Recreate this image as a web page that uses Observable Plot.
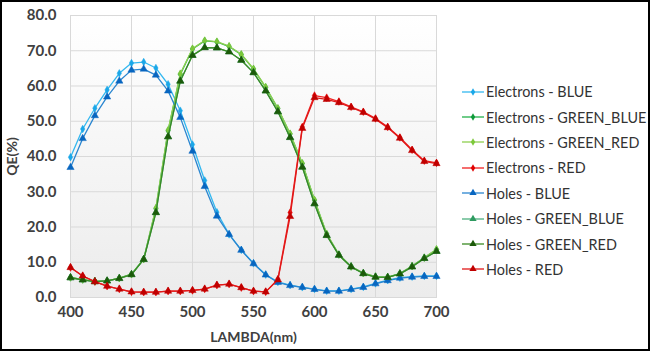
<!DOCTYPE html>
<html><head><meta charset="utf-8">
<script src="https://cdn.jsdelivr.net/npm/d3@7"></script>
<script src="https://cdn.jsdelivr.net/npm/@observablehq/plot@0.6"></script>
<style>
body{margin:0;background:#fff;}
#wrap{position:relative;width:650px;height:351px;overflow:hidden;background:#fff;font-family:Lato,"Open Sans",sans-serif;}
#wrap svg.plot{position:absolute;left:0;top:0;}
#border{position:absolute;left:0;top:0;width:650px;height:351px;box-sizing:border-box;border:2px solid #000;pointer-events:none;}
#legend{position:absolute;left:461px;top:79px;}
.row{height:25.4px;display:flex;align-items:center;font-size:14.4px;color:#333;white-space:nowrap;}
.row svg{margin-right:1px;display:block}
</style></head><body><div id="wrap"><div id="legend"></div><div id="border"></div></div>
<script>
const lambda = [400,410,420,430,440,450,460,470,480,490,500,510,520,530,540,550,560,570,580,590,600,610,620,630,640,650,660,670,680,690,700];
const xTicks = [400,450,500,550,600,650,700];
const yTicks = [0,10,20,30,40,50,60,70,80];

const electronsBlue = [39.8,47.8,53.7,58.9,63.6,66.5,66.8,65.1,60.5,53.0,43.4,33.2,24.2,17.9,13.5,9.7,6.5,4.4,3.5,2.9,2.4,1.9,1.9,2.4,3.0,4.0,4.9,5.6,5.9,6.1,6.1];
const electronsGreenBlue = [5.7,5.1,4.6,4.7,5.5,6.6,10.9,25.2,47.3,63.3,70.5,72.8,72.5,71.2,68.9,64.8,59.6,53.6,46.4,38.0,27.6,18.0,12.2,8.8,6.9,5.9,5.8,6.8,8.9,11.3,13.6];
const electronsGreenRed = [5.7,5.1,4.6,4.7,5.5,6.6,10.9,25.4,47.5,63.5,70.6,72.9,72.6,71.3,69.0,64.9,59.7,53.7,46.5,38.1,27.7,18.1,12.2,8.8,6.9,5.9,5.8,6.8,8.9,11.3,13.7];
const electronsRed = [8.5,6.1,4.5,3.2,2.4,1.6,1.5,1.5,1.8,1.8,2.0,2.4,3.5,3.8,2.8,1.8,1.6,5.2,24.1,48.4,57.3,56.7,55.6,54.1,52.7,50.8,48.4,45.4,41.9,38.8,38.2];
const holesBlue = [36.9,45.1,51.6,56.9,61.4,64.5,64.8,63.1,58.6,51.1,41.5,31.5,23.1,17.9,13.4,9.6,6.4,4.3,3.4,2.9,2.3,1.8,1.8,2.3,2.9,3.9,4.8,5.5,5.8,6.0,6.0];
const holesGreenBlue = [5.6,5.0,4.5,4.7,5.4,6.5,10.8,24.1,45.6,61.4,68.7,70.9,70.8,69.7,67.3,63.8,58.6,52.7,45.4,37.0,26.6,17.6,12.0,8.7,6.8,5.8,5.7,6.7,8.7,11.1,13.1];
const holesGreenRed = [5.6,5.0,4.5,4.7,5.4,6.5,10.8,24.1,45.6,61.4,68.7,70.9,70.8,69.7,67.3,63.8,58.6,52.7,45.4,37.0,26.6,17.6,12.0,8.7,6.8,5.8,5.7,6.7,8.7,11.1,13.1];
const holesRed = [8.5,6.1,4.5,3.2,2.4,1.6,1.5,1.5,1.8,1.8,2.0,2.4,3.5,3.8,2.8,1.8,1.6,5.0,23.0,48.0,56.7,56.2,55.3,53.9,52.5,50.6,48.2,45.2,41.7,38.6,38.0];

const seriesNames = ["Electrons - BLUE","Electrons - GREEN_BLUE","Electrons - GREEN_RED","Electrons - RED","Holes - BLUE","Holes - GREEN_BLUE","Holes - GREEN_RED","Holes - RED"];
const seriesValues = [electronsBlue,electronsGreenBlue,electronsGreenRed,electronsRed,holesBlue,holesGreenBlue,holesGreenRed,holesRed];

const styles = [
  {line:"#33b8f0", mark:"#1aa7e8", symbol:"diamond", r:2.3},
  {line:"#22b04a", mark:"#0f9a3a", symbol:"diamond", r:2.3},
  {line:"#8fd050", mark:"#7cc83a", symbol:"diamond", r:2.3},
  {line:"#f02020", mark:"#e00000", symbol:"diamond", r:2.3},
  {line:"#2a86d0", mark:"#0866c0", symbol:"triangle", r:2.7},
  {line:"#4caf7e", mark:"#2e9a60", symbol:"triangle", r:2.7},
  {line:"#3a8a22", mark:"#1c5a0a", symbol:"triangle", r:2.7},
  {line:"#e01818", mark:"#c00000", symbol:"triangle", r:2.7}
];

const table = seriesNames.map((name,i)=>lambda.map((l,j)=>({series:name, lambda:l, value:seriesValues[i][j]})));

const seriesMarks = [];
table.forEach((rows,i)=>{
  const s = styles[i];
  seriesMarks.push(Plot.line(rows,{x:"lambda",y:"value",stroke:s.line,strokeWidth:1.3}));
  seriesMarks.push(Plot.dot(rows,{x:"lambda",y:"value",symbol:s.symbol,r:s.r,fill:s.mark,stroke:s.mark,strokeWidth:0.5}));
});

const chart = Plot.plot({
  width:650, height:351,
  marginLeft:70, marginRight:214, marginTop:15, marginBottom:54,
  style:{fontFamily:"Lato, 'Open Sans', sans-serif", background:"transparent", overflow:"visible"},
  x:{domain:[400,700]},
  y:{domain:[0,80]},
  marks:[
    Plot.frame({fill:"url(#plotbg)", stroke:"#d9d9d9"}),
    Plot.gridX(xTicks,{stroke:"#d9d9d9", strokeOpacity:1}),
    Plot.gridY(yTicks,{stroke:"#d9d9d9", strokeOpacity:1}),
    Plot.axisX(xTicks,{tickSize:0, tickPadding:9, fontSize:15, fontWeight:"bold", fill:"#404040", label:null}),
    Plot.axisY(yTicks,{tickSize:0, tickPadding:14, fontSize:15, fontWeight:"bold", fill:"#404040", label:null, tickFormat:d=>d.toFixed(1)}),
    ...seriesMarks,
    Plot.text(["LAMBDA(nm)"],{frameAnchor:"bottom", dy:40, lineAnchor:"middle", fontSize:14, fontWeight:"bold", fill:"#404040"}),
    Plot.text(["QE(%)"],{frameAnchor:"left", dx:-58, rotate:-90, lineAnchor:"middle", textAnchor:"middle", fontSize:14, fontWeight:"bold", fill:"#404040"})
  ]
});
chart.classList.add("plot");
const ns = "http://www.w3.org/2000/svg";
const defs = document.createElementNS(ns,"defs");
defs.innerHTML = '<linearGradient id="plotbg" x1="0" y1="0" x2="0" y2="1"><stop offset="0" stop-color="#ffffff"/><stop offset="1" stop-color="#ececec"/></linearGradient>';
chart.insertBefore(defs, chart.firstChild);
const wrap = document.getElementById("wrap");
wrap.insertBefore(chart, wrap.firstChild);

const legend = d3.select("#legend");
seriesNames.forEach((name,i)=>{
  const s = styles[i];
  const row = legend.append("div").attr("class","row");
  const svg = row.append("svg").attr("width",24).attr("height",12);
  svg.append("line").attr("x1",1).attr("x2",23).attr("y1",6).attr("y2",6).attr("stroke",s.line).attr("stroke-width",1.3);
  const sym = s.symbol==="diamond" ? d3.symbolDiamond : d3.symbolTriangle;
  svg.append("path").attr("d", d3.symbol(sym, Math.PI*s.r*s.r)()).attr("transform","translate(12,6)").attr("fill",s.mark);
  row.append("span").text(name);
});
</script>
</body></html>
